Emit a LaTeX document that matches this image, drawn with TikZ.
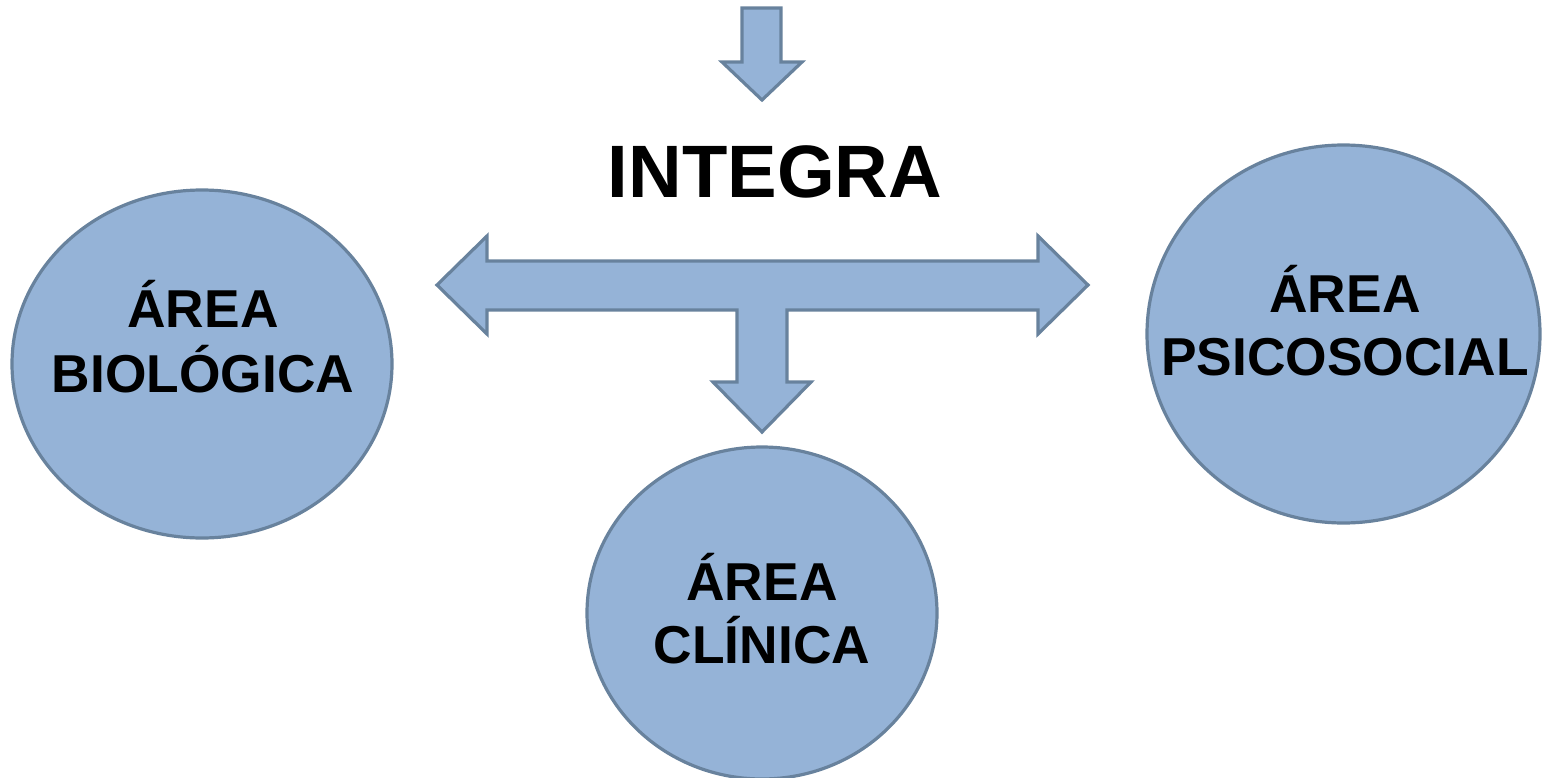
\documentclass[tikz,border=0pt]{standalone}
\usepackage{fontspec}
\setmainfont{Liberation Sans}
\usetikzlibrary{shapes.geometric}
\definecolor{shapefill}{RGB}{149,179,215}
\definecolor{shapeline}{RGB}{104,130,157}
\tikzset{
  shapestyle/.style={fill=shapefill, draw=shapeline, line width=2.4pt},
  areabox/.style={shapestyle, ellipse, inner sep=0pt},
  areatext/.style={anchor=base, inner sep=0pt, font=\bfseries\fontsize{40}{48}\selectfont},
  titletext/.style={anchor=base, inner sep=0pt, font=\bfseries\fontsize{55.7}{66}\selectfont}
}
\begin{document}
\begin{tikzpicture}[x=0.75pt,y=-0.75pt]
\useasboundingbox (0,0) rectangle (1542,778);
% ellipses
\node[areabox, minimum width=285pt, minimum height=261pt] (bio) at (202,364) {};
\node[areabox, minimum width=262.5pt, minimum height=249pt] (cli) at (762,613) {};
\node[areabox, minimum width=294.75pt, minimum height=283.5pt] (psi) at (1343.5,334) {};
% top arrow
\draw[shapestyle] (742,8) -- (781,8) -- (781,62) -- (802,62) -- (762,100) -- (722,62) -- (742,62) -- cycle;
% three-way arrow
\draw[shapestyle] (437,285) -- (487,236) -- (487,261) -- (1038,261) -- (1038,236) -- (1088,285)
  -- (1038,334) -- (1038,310) -- (787,310) -- (787,382) -- (811,382) -- (762,432)
  -- (713,382) -- (737,382) -- (737,310) -- (487,310) -- (487,334) -- cycle;
% texts
\node[titletext] (integra) at (775,197) {INTEGRA};
\node[areatext] (bio1) at (203,327) {ÁREA};
\node[areatext] (bio2) at (203,392) {BIOLÓGICA};
\node[areatext] (cli1) at (762,600) {ÁREA};
\node[areatext] (cli2) at (762,663) {CLÍNICA};
\node[areatext] (psi1) at (1345,312) {ÁREA};
\node[areatext] (psi2) at (1345,375) {PSICOSOCIAL};
\end{tikzpicture}
\end{document}
